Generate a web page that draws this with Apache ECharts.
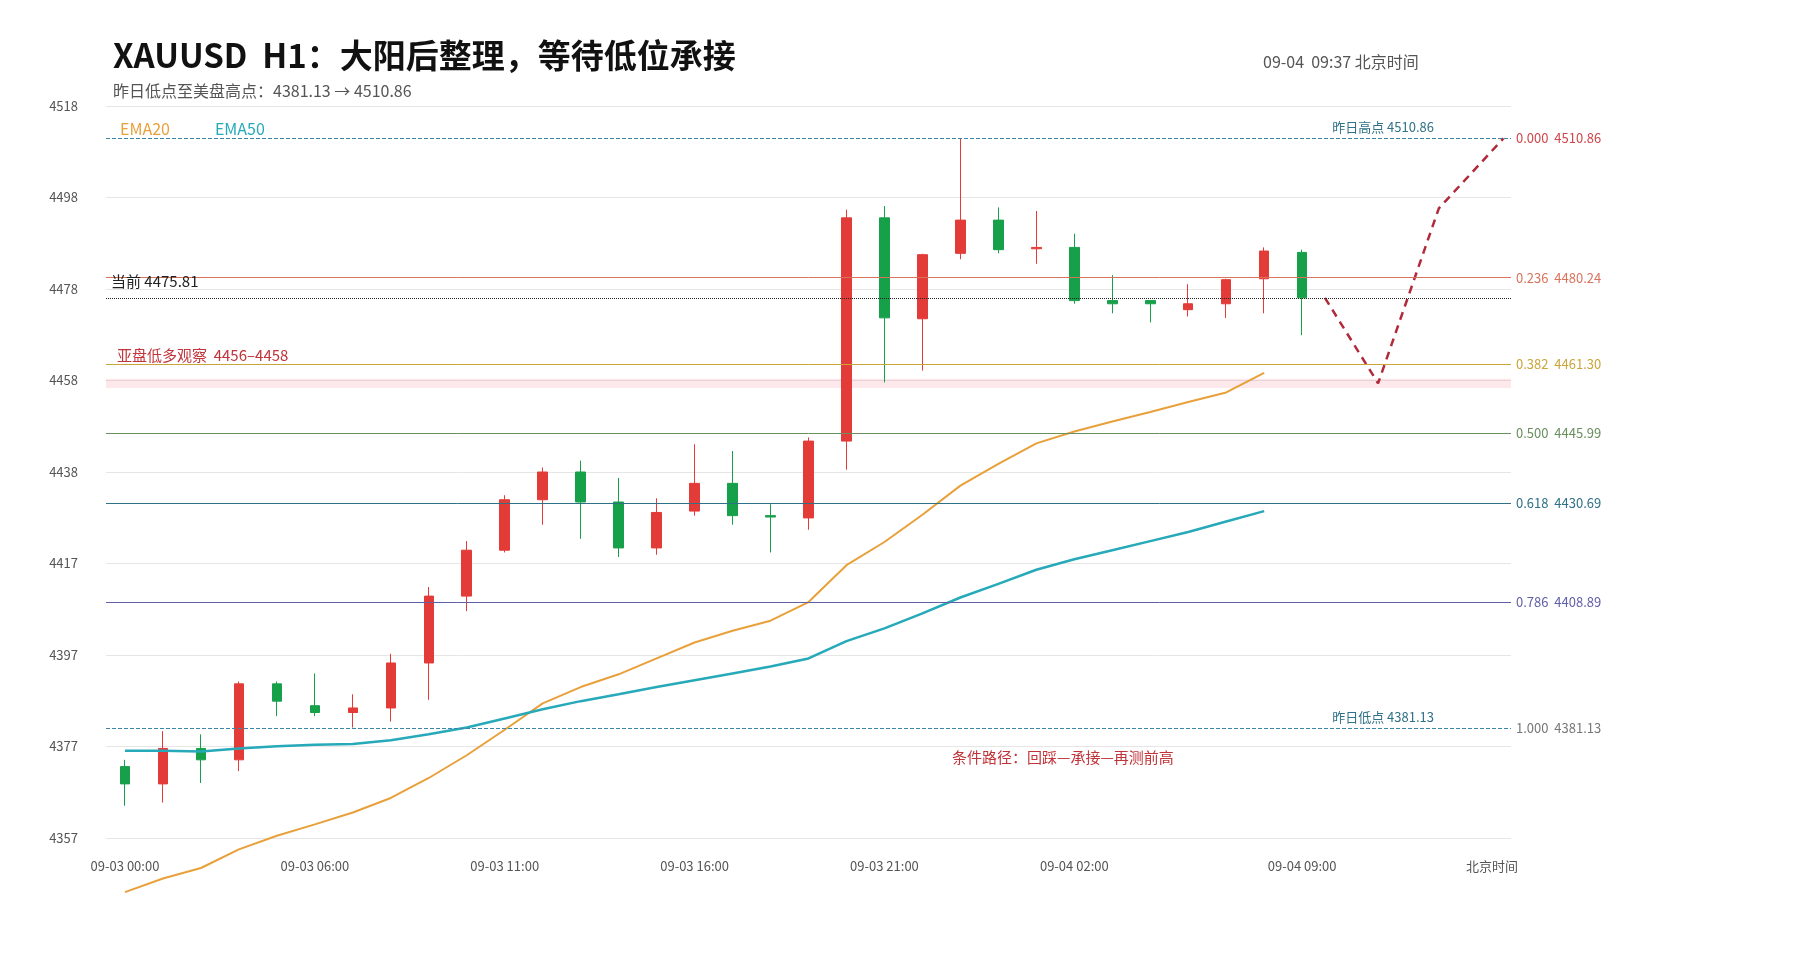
<!DOCTYPE html>
<html><head><meta charset="utf-8">
<script src="https://cdn.jsdelivr.net/npm/echarts@6/dist/echarts.min.js"></script>
<style>html,body{margin:0;padding:0;background:#fff}#c{width:1800px;height:960px}</style>
</head><body><div id="c"></div>
<script>
const categories = ['09-03 00:00','09-03 01:00','09-03 02:00','09-03 03:00','09-03 04:00','09-03 06:00','09-03 07:00','09-03 08:00','09-03 09:00','09-03 10:00','09-03 11:00','09-03 12:00','09-03 13:00','09-03 14:00','09-03 15:00','09-03 16:00','09-03 17:00','09-03 18:00','09-03 19:00','09-03 20:00','09-03 21:00','09-03 22:00','09-03 23:00','09-04 00:00','09-04 01:00','09-04 02:00','09-04 03:00','09-04 04:00','09-04 06:00','09-04 07:00','09-04 08:00','09-04 09:00','09-04 10:00','09-04 11:00','09-04 12:00','09-04 13:00','09-04 14:00'];
const shownLabels = [0,5,10,15,20,25,31];
// [open, close, low, high]
const candles = [
[4372.7,4368.9,4364.1,4374.2],[4368.9,4376.7,4364.8,4380.5],[4376.7,4374.2,4369.1,4379.8],[4374.2,4390.9,4371.7,4391.4],
[4390.9,4387.1,4383.8,4391.4],[4386.1,4384.6,4383.8,4393.2],[4384.6,4385.6,4381.3,4388.6],[4385.6,4395.5,4382.6,4397.5],
[4395.5,4410.2,4387.4,4412.2],[4410.2,4420.3,4406.9,4422.3],[4420.3,4431.4,4419.8,4432.4],[4431.4,4437.5,4425.9,4438.5],
[4437.5,4430.9,4422.8,4440.0],[4430.9,4420.8,4418.8,4436.2],[4420.8,4428.6,4419.3,4431.7],[4428.9,4435.0,4427.9,4443.6],
[4435.0,4427.9,4425.9,4442.1],[4427.9,4427.6,4419.8,4430.4],[4427.4,4444.3,4424.8,4445.1],[4444.3,4493.4,4438.0,4495.2],
[4493.4,4471.4,4457.2,4496.0],[4471.2,4485.3,4459.8,4485.5],[4485.6,4492.9,4484.3,4510.86],[4492.9,4486.4,4485.6,4495.7],
[4486.6,4486.9,4483.3,4494.9],[4486.9,4475.2,4474.5,4489.9],[4475.2,4474.5,4472.4,4480.8],[4475.2,4474.5,4470.4,4475.2],
[4473.2,4474.5,4471.7,4478.8],[4474.5,4479.8,4471.4,4480.0],[4480.0,4486.1,4472.4,4486.9],[4485.8,4475.81,4467.6,4486.4]
];
const ema20 = [4345.1,4348.1,4350.4,4354.5,4357.5,4360.0,4362.6,4365.8,4370.2,4375.2,4380.8,4386.6,4390.2,4393.0,4396.5,4400.0,4402.6,4404.8,4408.9,4417.0,4422.1,4428.1,4434.5,4439.3,4443.8,4446.4,4448.6,4450.7,4452.9,4455.0,4459.3];
const ema50 = [4376.2,4376.2,4376.0,4376.7,4377.2,4377.5,4377.7,4378.5,4379.8,4381.3,4383.3,4385.3,4387.1,4388.6,4390.2,4391.7,4393.2,4394.7,4396.5,4400.3,4403.1,4406.4,4409.9,4412.9,4416.0,4418.3,4420.3,4422.3,4424.3,4426.6,4428.9];
const pathPts = [[31.6,4475.81],[33.0,4457.0],[34.6,4495.5],[36.3,4510.86]];
const fibRatios = ['0.000','0.236','0.382','0.500','0.618','0.786','1.000'];
const fibValues = [4510.86,4480.24,4461.30,4445.99,4430.69,4408.89,4381.13];
const fibColors = ['#3b86a8','#d9735c','#c9a53a','#6a8f5e','#2f7186','#6060a8','#3b86a8'];
const fibLabelColors = ['#d0454a','#d9735c','#c9a53a','#6a8f5e','#2f7186','#6060a8','#777'];
const currentPrice = 4475.81;
const zone = [4456,4458];

const fibLines = fibValues.map((v,i)=>({
  yAxis:v,
  lineStyle:{color:fibColors[i],width:1,type:(i===0||i===6)?'dashed':'solid'},
  label:{show:true,position:'end',distance:5,formatter:fibRatios[i]+'  '+v.toFixed(2),color:fibLabelColors[i],fontSize:13}
}));
fibLines.push({yAxis:fibValues[0],lineStyle:{color:'rgba(0,0,0,0)',width:0},label:{show:true,position:'insideEndTop',offset:[-72,0],formatter:'昨日高点 '+fibValues[0].toFixed(2),color:'#2f7186',fontSize:13}});
fibLines.push({yAxis:fibValues[6],lineStyle:{color:'rgba(0,0,0,0)',width:0},label:{show:true,position:'insideEndTop',offset:[-72,0],formatter:'昨日低点 '+fibValues[6].toFixed(2),color:'#2f7186',fontSize:13}});
fibLines.push({yAxis:currentPrice,lineStyle:{color:'#222',type:'dotted',width:1},label:{show:true,position:'insideStartTop',formatter:'当前 '+currentPrice.toFixed(2),color:'#222',fontSize:15,offset:[0,-4]}});

const chart = echarts.init(document.getElementById('c'));
chart.setOption({
  animation:false,
  textStyle:{fontFamily:'"Noto Sans CJK SC","Noto Sans",sans-serif'},
  title:[
    {text:'XAUUSD  H1：大阳后整理，等待低位承接',left:108,top:34,textStyle:{fontSize:33,fontWeight:'bold',color:'#111'}},
    {text:'昨日低点至美盘高点：4381.13 → 4510.86',left:108,top:78,textStyle:{fontSize:16,fontWeight:'normal',color:'#555'}},
    {text:'09-04  09:37 北京时间',left:1258,top:49,textStyle:{fontSize:16,fontWeight:'normal',color:'#555'}}
  ],
  legend:{show:true,left:110,top:116,itemWidth:0,itemHeight:0,icon:'none',itemGap:40,
    data:[{name:'EMA20',textStyle:{color:'#e8a03a'}},{name:'EMA50',textStyle:{color:'#26a9b8'}}],textStyle:{fontSize:16}},
  grid:{left:106,right:289,top:106,bottom:122},
  xAxis:[
    {type:'category',data:categories,boundaryGap:true,
     axisLine:{show:false},axisTick:{show:false},
     axisLabel:{interval:(i)=>shownLabels.includes(i),color:'#555',fontSize:13,margin:22},
     name:'北京时间',nameLocation:'end',nameGap:-45,nameTextStyle:{color:'#555',fontSize:13,verticalAlign:'top',padding:[22,0,0,0]}},
    {type:'value',min:-0.5,max:36.5,show:false}
  ],
  yAxis:{type:'value',min:4357,max:4518,interval:20.125,
    axisLabel:{formatter:(v)=>Math.round(v),color:'#555',fontSize:13,margin:28},
    splitLine:{lineStyle:{color:'#e6e6e6'}},axisLine:{show:false},axisTick:{show:false}},
  series:[
    {type:'candlestick',name:'K',data:candles,barWidth:10,
     itemStyle:{color:'#e33b37',color0:'#17a04a',borderColor:'#e33b37',borderColor0:'#17a04a',borderWidth:1},
     markLine:{symbol:'none',silent:true,data:fibLines},
     markArea:{silent:true,itemStyle:{color:'rgba(240,120,130,0.16)'},
       data:[[{yAxis:zone[0],label:{show:true,position:'insideTopLeft',offset:[6,-36],formatter:'亚盘低多观察  4456–4458',color:'#c0343a',fontSize:15}},{yAxis:zone[1]}]]}
    },
    {type:'line',name:'EMA20',data:ema20,symbol:'none',clip:false,lineStyle:{color:'#e8a03a',width:2},itemStyle:{color:'#e8a03a'}},
    {type:'line',name:'EMA50',data:ema50,symbol:'none',clip:false,lineStyle:{color:'#26a9b8',width:2.5},itemStyle:{color:'#26a9b8'}},
    {type:'line',name:'path',xAxisIndex:1,data:pathPts,symbol:'none',lineStyle:{color:'#b02a3a',width:2.5,type:[8,6]},
     markPoint:{symbol:'circle',symbolSize:1,itemStyle:{color:'rgba(0,0,0,0)'},
       data:[{coord:[24.7,4374.8],label:{show:true,position:'inside',formatter:'条件路径：回踩—承接—再测前高',color:'#c0343a',fontSize:15}}]}}
  ]
});
</script></body></html>
